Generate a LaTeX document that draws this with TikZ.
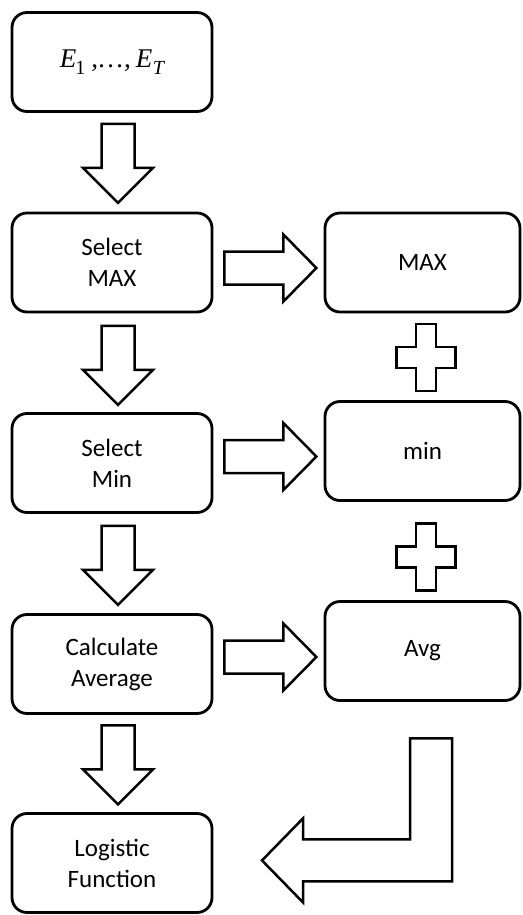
\documentclass[tikz,border=0pt]{standalone}
\usepackage{fontspec}
\setmainfont{Carlito}
\newfontfamily\serifit{Liberation Serif}
\usetikzlibrary{calc}
\begin{document}
\begin{tikzpicture}[x=1pt,y=-1pt,
  box/.style={draw,line width=2.8pt,rounded corners=15pt,minimum width=200pt,
    minimum height=99pt,align=center,inner sep=0pt,
    font=\fontsize{25}{31}\selectfont},
  rbox/.style={box,minimum width=195pt},
  blockarrow/.style={draw,line width=2.5pt,fill=white,line join=miter},
  darrow/.pic={\path[blockarrow] (-16.5,0) -- (16.5,0) -- (16.5,44) -- (35,44)
    -- (0,79) -- (-35,44) -- (-16.5,44) -- cycle;},
  rarrow/.pic={\path[blockarrow] (0,-16.5) -- (59,-16.5) -- (59,-33.5) -- (92,0)
    -- (59,33.5) -- (59,16.5) -- (0,16.5) -- cycle;},
  plussign/.pic={\path[blockarrow] (-10,-33.5) -- (10,-33.5) -- (10,-10.5)
    -- (29.5,-10.5) -- (29.5,10.5) -- (10,10.5) -- (10,33.5) -- (-10,33.5)
    -- (-10,10.5) -- (-29.5,10.5) -- (-29.5,-10.5) -- (-10,-10.5) -- cycle;},
  % bent arrow: origin at the top left corner of its vertical shaft
  bentarrow/.pic={\path[blockarrow] (0,0) -- (42,0) -- (42,143) -- (-107,143)
    -- (-107,164) -- (-148,122) -- (-107,80) -- (-107,101) -- (0,101) -- cycle;}]
\useasboundingbox (0,0) rectangle (522,915);

% left column
\node[box] (src) at (112,62)
  {\serifit\fontsize{27}{30}\selectfont\itshape E\kern-1pt\raisebox{-7pt}{\upshape\fontsize{20}{20}\selectfont 1}\kern6pt,\kern1pt\dots\kern1pt,\kern5pt E\kern0.5pt\raisebox{-7pt}{\fontsize{20}{20}\selectfont T}};
\node[box] (selmax) at (112,262.5) {Select\\MAX};
\node[box] (selmin) at (112,463) {Select\\Min};
\node[box] (calc) at (112,664) {Calculate\\Average};
\node[box] (logi) at (112,863) {Logistic\\Function};

% right column
\node[rbox] (max) at (422.5,262.5) {MAX};
\node[rbox] (min) at (422.5,451) {min};
\node[rbox] (avg) at (422.5,651) {Avg};

% downward block arrows
\pic at ($(src.south)+(6,11)$) {darrow};
\pic at ($(selmax.south)+(6,12.5)$) {darrow};
\pic at ($(selmin.south)+(6,12)$) {darrow};
\pic at ($(calc.south)+(6,10.5)$) {darrow};

% rightward block arrows
\pic at ($(selmax.east)+(11,5.5)$) {rarrow};
\pic at ($(selmin.east)+(11,-6.5)$) {rarrow};
\pic at ($(calc.east)+(11,-7)$) {rarrow};

% plus signs
\pic at ($(max.south)!0.5!(min.north)+(3.5,0.5)$) {plussign};
\pic at ($(min.south)!0.5!(avg.north)+(3.5,6)$) {plussign};

% bent arrow back to the logistic function
\pic at ($(avg.south)+(-12.5,36.5)$) {bentarrow};
\end{tikzpicture}
\end{document}
